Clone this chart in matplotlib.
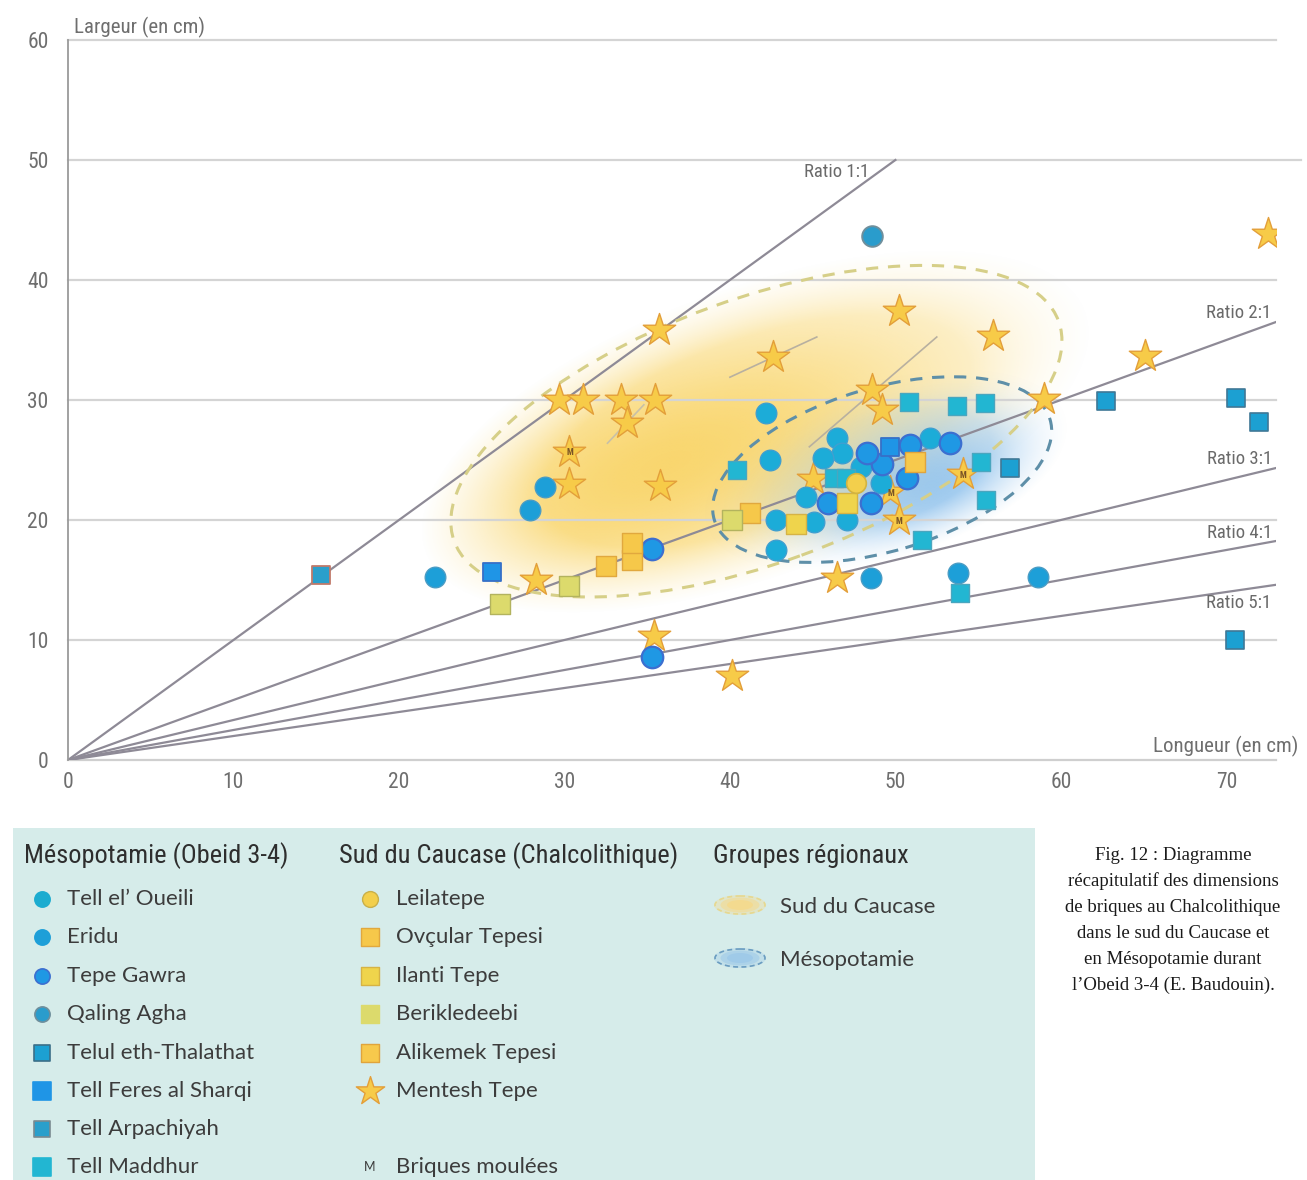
import numpy as np
import matplotlib
matplotlib.use("Agg")
import matplotlib.pyplot as plt
from matplotlib.patches import Ellipse, Rectangle
from matplotlib.transforms import Affine2D
from matplotlib import font_manager


def pick_font(names):
    avail = {f.name for f in font_manager.fontManager.ttflist}
    for n in names:
        if n in avail:
            return n
    return "DejaVu Sans"


COND = pick_font(["Liberation Sans Narrow", "Roboto Condensed", "DejaVu Sans"])
ROUND = pick_font(["Lato", "Open Sans", "DejaVu Sans"])
SERIF = pick_font(["Liberation Serif", "DejaVu Serif"])

# ---------------- data (longueur, largeur en cm) ----------------
# Mésopotamie (Obeid 3-4)
oueili_x = [42.2, 42.4, 42.8, 42.8, 46.5, 46.8, 45.6, 47.9, 49.1, 44.6, 47.1, 45.1, 52.1]
oueili_y = [28.9, 25.0, 20.0, 17.5, 26.8, 25.6, 25.2, 24.4, 23.1, 21.9, 20.0, 19.8, 26.8]
eridu_x = [28.8, 27.9, 22.2, 48.5, 53.8, 58.6]
eridu_y = [22.75, 20.8, 15.25, 15.2, 15.6, 15.25]
gawra_x = [35.3, 35.3, 45.9, 48.5, 49.2, 50.7, 50.9, 53.3, 48.3]
gawra_y = [17.6, 8.6, 21.4, 21.4, 24.7, 23.5, 26.25, 26.4, 25.6]
qaling_x = [48.6]
qaling_y = [43.7]
telul_x = [62.7, 70.6, 72.0, 70.5, 56.9]
telul_y = [29.9, 30.2, 28.2, 10.0, 24.3]
feres_x = [25.6, 49.7]
feres_y = [15.7, 26.1]
arpachiyah_x = [15.3]
arpachiyah_y = [15.4]
maddhur_x = [40.4, 50.8, 53.7, 55.4, 46.3, 47.0, 55.2, 55.5, 51.6, 53.9]
maddhur_y = [24.2, 29.8, 29.5, 29.75, 23.5, 23.5, 24.8, 21.7, 18.3, 13.9]

# Sud du Caucase (Chalcolithique)
leilatepe_x = [47.6]
leilatepe_y = [23.1]
ovcular_x = [32.5, 34.1, 34.1, 41.2]
ovcular_y = [16.2, 16.7, 18.1, 20.6]
ilanti_x = [44.0, 47.1]
ilanti_y = [19.7, 21.4]
berikledeebi_x = [26.1, 30.3, 40.1]
berikledeebi_y = [13.0, 14.5, 20.0]
alikemek_x = [51.2]
alikemek_y = [24.8]
mentesh_x = [72.5, 35.7, 50.2, 55.9, 42.6, 65.1, 29.7, 31.1, 33.4, 35.5, 33.8, 48.6, 49.2,
             59.0, 30.3, 30.3, 35.8, 45.0, 28.3, 46.5, 35.4, 40.1, 49.7, 50.2, 54.1]
mentesh_y = [43.8, 35.8, 37.4, 35.3, 33.6, 33.7, 30.0, 30.0, 30.0, 30.0, 28.1, 30.8, 29.2,
             30.1, 25.7, 23.0, 22.8, 23.4, 15.0, 15.2, 10.3, 7.0, 22.3, 20.0, 23.8]
# briques moulées (M)
moulees_x = [30.3, 49.7, 50.2, 54.1]
moulees_y = [25.7, 22.3, 20.0, 23.8]

ratios = [1, 2, 3, 4, 5]
ratio_labels = ["Ratio 1:1", "Ratio 2:1", "Ratio 3:1", "Ratio 4:1", "Ratio 5:1"]
x_ticks = [0, 10, 20, 30, 40, 50, 60, 70]
y_ticks = [0, 10, 20, 30, 40, 50, 60]

# regional groups: centre (cm), semi-axes (in largeur-cm visual units), angle (deg)
caucase_zone = dict(cx=41.6, cy=27.4, a=26.8, b=11.0, ang=20.0)
meso_zone = dict(cx=49.2, cy=24.2, a=14.6, b=6.8, ang=16.6)

# ---------------- figure ----------------
W, H, DPI = 1307, 1180, 100
fig = plt.figure(figsize=(W / DPI, H / DPI), dpi=DPI)
fig.patch.set_facecolor("white")

XMAX, YMAX = 73, 60
ax = fig.add_axes([68 / W, 420 / H, 1208 / W, 720 / H])
ax.set_xlim(0, XMAX)
ax.set_ylim(0, YMAX)
KX = (1208 / XMAX) / (720 / YMAX)   # visual stretch of x vs y
vis = Affine2D().scale(1 / KX, 1) + ax.transData

for s in ["top", "right", "bottom"]:
    ax.spines[s].set_visible(False)
ax.spines["left"].set_color("#9a9a9a")
ax.spines["left"].set_linewidth(1.3)
ax.set_xticks(x_ticks)
ax.set_yticks(y_ticks)
ax.tick_params(length=0, labelcolor="#6e6e6e", labelsize=15.5)
ax.tick_params(axis="y", pad=14)
ax.tick_params(axis="x", pad=9)
for lab in ax.get_xticklabels() + ax.get_yticklabels():
    lab.set_fontfamily(COND)

# grid lines
for yv in y_ticks[1:]:
    ax.plot([0, 74.5 if yv == 50 else XMAX], [yv, yv], color="#d4d4d4", lw=1.6,
            zorder=2, clip_on=False)
ax.plot([0, XMAX], [0, 0], color="#cfcfcf", lw=1.6, zorder=2, clip_on=False)


# gradient zones
def zone_coords(z, X, Y):
    t = np.radians(z["ang"])
    u = (X - z["cx"]) * KX
    v = Y - z["cy"]
    p = u * np.cos(t) + v * np.sin(t)
    q = -u * np.sin(t) + v * np.cos(t)
    return p / z["a"], q / z["b"]


gx = np.linspace(0, XMAX, 700)
gy = np.linspace(0, YMAX, 600)
GX, GY = np.meshgrid(gx, gy)

P, Q = zone_coords(caucase_zone, GX, GY)
R = np.sqrt(P ** 2 + Q ** 2)
edge = np.clip((1.1 - R) / 0.4, 0, 1)
core = np.exp(-(((P + 0.3) / 1.05) ** 2 + (Q / 1.0) ** 2))
img = np.zeros(GX.shape + (4,))
img[..., 0], img[..., 1], img[..., 2] = 249 / 255, 210 / 255, 95 / 255
img[..., 3] = 0.9 * core * edge
ax.imshow(img, extent=[0, XMAX, 0, YMAX], origin="lower", aspect="auto",
          interpolation="bilinear", zorder=1)

P, Q = zone_coords(meso_zone, GX, GY)
R = np.sqrt(P ** 2 + Q ** 2)
edge = np.clip((1.1 - R) / 0.45, 0, 1)
core = np.exp(-(((P - 0.25) / 0.75) ** 2 + ((Q + 0.35) / 0.85) ** 2))
img = np.zeros(GX.shape + (4,))
img[..., 0], img[..., 1], img[..., 2] = 140 / 255, 192 / 255, 236 / 255
img[..., 3] = 0.85 * core * edge
ax.imshow(img, extent=[0, XMAX, 0, YMAX], origin="lower", aspect="auto",
          interpolation="bilinear", zorder=1.1)
ax.set_xlim(0, XMAX)
ax.set_ylim(0, YMAX)

for z, col in [(caucase_zone, "#d6cf88"), (meso_zone, "#5e8fa8")]:
    ax.add_patch(Ellipse((z["cx"] * KX, z["cy"]), 2 * z["a"], 2 * z["b"], angle=z["ang"],
                         transform=vis, fill=False, edgecolor=col, lw=2.2,
                         linestyle=(0, (4, 3.2)), zorder=3))

# small axis strokes inside the Caucasus zone
ax.plot([40.0, 45.25], [31.9, 35.25], color="#b8b0a0", lw=1.2, zorder=3)
ax.plot([44.8, 52.5], [26.1, 35.25], color="#b8b0a0", lw=1.2, zorder=3)
ax.plot([32.6, 34.8], [26.4, 29.6], color="#c8c0a8", lw=1.2, zorder=3)

# ratio lines (1:1 stops at the 50 cm grid line)
for r in ratios:
    xe = 50 if r == 1 else XMAX
    ax.plot([0, xe], [0, xe / r], color="#8e8a96", lw=1.6, zorder=2.5)


# points
def pts(x, y, marker, face, edgec, s, lw=1.0, z=5):
    ax.scatter(x, y, marker=marker, s=s, facecolor=face, edgecolor=edgec,
               linewidths=lw, zorder=z)


pts(mentesh_x, mentesh_y, "*", "#f7cb48", "#e39f3a", 600, 1.0, 4)
pts(eridu_x, eridu_y, "o", "#1d9fd8", "#4a9cc4", 220)
pts(qaling_x, qaling_y, "o", "#2a9ccc", "#6f8f9c", 220, 1.4)
pts(oueili_x, oueili_y, "o", "#1cacd8", "#3f9fd0", 220)
pts(gawra_x, gawra_y, "o", "#1f98e4", "#3c6fd0", 240, 1.6)
pts(telul_x, telul_y, "s", "#1ca0d2", "#3f7896", 160, 1.2)
pts(feres_x, feres_y, "s", "#1f95e6", "#3670c8", 160, 1.3)
pts(arpachiyah_x, arpachiyah_y, "s", "#2a9fcb", "#c07a6a", 160, 1.3)
pts(maddhur_x, maddhur_y, "s", "#22b6d2", "#4aa6bf", 170, 1.0)
pts(leilatepe_x, leilatepe_y, "o", "#f3cf4c", "#d2b340", 200, 1.2, 6)
pts(ovcular_x, ovcular_y, "s", "#f6c84a", "#e1a83e", 190, 1.0)
pts(ilanti_x, ilanti_y, "s", "#efd44c", "#d6b345", 190, 1.0)
pts(berikledeebi_x, berikledeebi_y, "s", "#dcda6c", "#b3b35e", 190, 1.0)
pts(alikemek_x, alikemek_y, "s", "#f7c94c", "#e0a43c", 190, 1.0)
for mx, my in zip(moulees_x, moulees_y):
    ax.text(mx, my - 0.1, "M", fontsize=6.5, color="#7a5426", ha="center", va="center",
            fontfamily=COND, fontweight="bold", zorder=7)

# ---------------- overlay (texts, legend) in pixel coords ----------------
ov = fig.add_axes([0, 0, 1, 1])
ov.set_xlim(0, W)
ov.set_ylim(H, 0)
ov.axis("off")

ov.text(74, 27, "Largeur (en cm)", fontsize=15, color="#6e6e6e", fontfamily=COND,
        va="center", ha="left")
ov.text(1298, 746, "Longueur (en cm)", fontsize=15, color="#6e6e6e", fontfamily=COND,
        va="center", ha="right")
ratio_pos = [(837, 172), (1239, 313), (1240, 459), (1240, 533), (1239, 603)]
for lab, (px, py) in zip(ratio_labels, ratio_pos):
    ov.text(px, py, lab, fontsize=13.5, color="#6a6a6a", fontfamily=COND,
            ha="center", va="center")

# legend box
ov.add_patch(Rectangle((13, 828), 1022, 360, facecolor="#d6ecea", edgecolor="none", zorder=0))

tcol = "#3c3c3c"
for xx, t in [(24, "Mésopotamie (Obeid 3-4)"), (339, "Sud du Caucase (Chalcolithique)"),
              (713, "Groupes régionaux")]:
    ov.text(xx, 856, t, fontsize=19, color="#2e2e2e", fontfamily=COND,
            va="center", ha="left")

meso_items = [
    ("Tell el\u2019 Oueili", "o", "#1cacd0", "#1cacd0", 120),
    ("Eridu", "o", "#1d9fd8", "#1d9fd8", 120),
    ("Tepe Gawra", "o", "#1f98e4", "#3c6fd0", 120),
    ("Qaling Agha", "o", "#2a9ccc", "#6f8f9c", 120),
    ("Telul eth-Thalathat", "s", "#1ca0d2", "#3b6f88", 140),
    ("Tell Feres al Sharqi", "s", "#1f95e6", "#1f95e6", 160),
    ("Tell Arpachiyah", "s", "#2a9fcb", "#7a8a90", 140),
    ("Tell Maddhur", "s", "#22b6d2", "#22b6d2", 150),
]
row_y = [899, 937, 976, 1014, 1053, 1091, 1129, 1167]
for (lab, mk, fc, ec, s), yy in zip(meso_items, row_y):
    ov.scatter([42], [yy], marker=mk, s=s, facecolor=fc, edgecolor=ec, linewidths=1.2)
    ov.text(67, yy, lab, fontsize=16, color=tcol, fontfamily=ROUND, va="center", ha="left")

cau_items = [
    ("Leilatepe", "o", "#f3cf4c", "#c9b04a", 130),
    ("Ovçular Tepesi", "s", "#f6c84a", "#e1a83e", 180),
    ("Ilanti Tepe", "s", "#efd44c", "#d6b345", 180),
    ("Berikledeebi", "s", "#dcda6c", "#dcda6c", 180),
    ("Alikemek Tepesi", "s", "#f7c94c", "#e0a43c", 180),
    ("Mentesh Tepe", "*", "#f7cb48", "#e39f3a", 460),
]
for (lab, mk, fc, ec, s), yy in zip(cau_items, row_y):
    ov.scatter([370], [yy], marker=mk, s=s, facecolor=fc, edgecolor=ec, linewidths=1.0)
    ov.text(396, yy, lab, fontsize=16, color=tcol, fontfamily=ROUND, va="center", ha="left")
ov.text(370, 1167, "M", fontsize=9, color=tcol, fontfamily=ROUND, va="center", ha="center")
ov.text(396, 1167, "Briques moulées", fontsize=16, color=tcol, fontfamily=ROUND,
        va="center", ha="left")

# regional group icons
for yy, fc, ec, lab in [(905, "#f6d98a", "#e6d890", "Sud du Caucase"),
                        (958, "#9cc8e8", "#6a9cc0", "Mésopotamie")]:
    for k, al in [(1.0, 0.35), (0.75, 0.55), (0.5, 0.8)]:
        ov.add_patch(Ellipse((740, yy), 52 * k, 20 * k, facecolor=fc, edgecolor="none",
                             alpha=al, zorder=1))
    ov.add_patch(Ellipse((740, yy), 50, 18, fill=False, edgecolor=ec, lw=1.2,
                         linestyle=(0, (3, 2)), zorder=2))
    ov.text(780, yy + 2, lab, fontsize=16, color=tcol, fontfamily=ROUND, va="center", ha="left")

# caption, kept inside the page
caption = ["Fig. 12 : Diagramme", "récapitulatif des dimensions",
           "de briques au Chalcolithique", "dans le sud du Caucase et",
           "en Mésopotamie durant", "l\u2019Obeid 3-4 (E. Baudouin)."]
cap_y = [855, 881, 907, 933, 959, 985]
for t, yy in zip(caption, cap_y):
    ov.text(1173, yy, t, fontsize=13.5, color="#1a1a1a", fontfamily=SERIF,
            va="center", ha="center")

fig.savefig("out.png", dpi=DPI)
